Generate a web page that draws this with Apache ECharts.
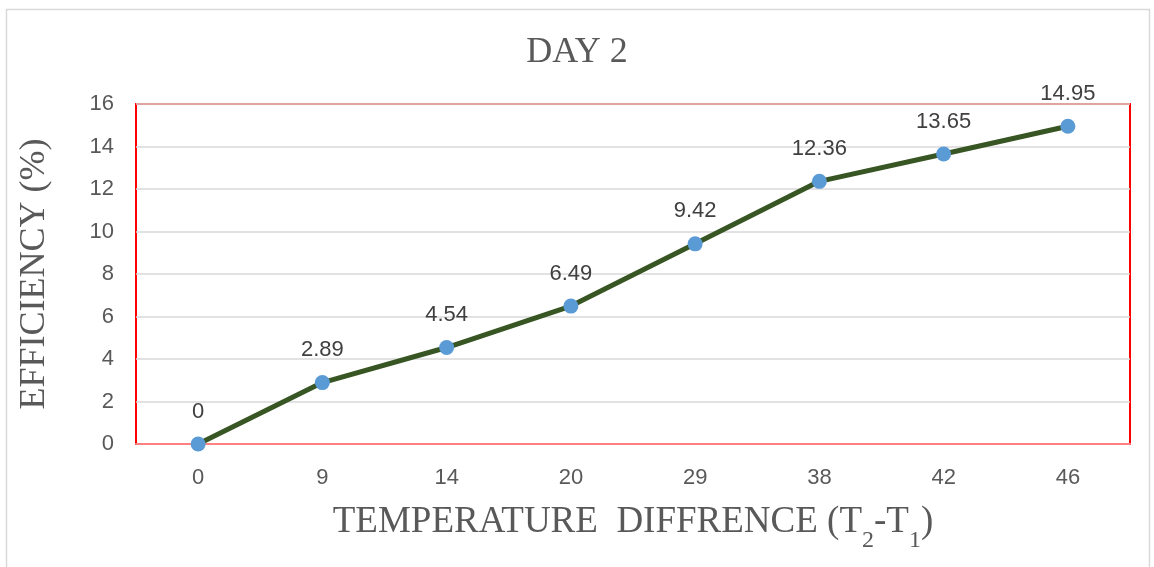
<!DOCTYPE html>
<html><head><meta charset="utf-8">
<script src="https://cdn.jsdelivr.net/npm/echarts@6/dist/echarts.min.js"></script>
<style>html,body{margin:0;padding:0;background:#fff}#c{width:1154px;height:567px}</style>
</head><body><div id="c"></div>
<script>
const categories = ['0','9','14','20','29','38','42','46'];
const efficiency = [0, 2.89, 4.54, 6.49, 9.42, 12.36, 13.65, 14.95];
const sans = '"Liberation Sans Narrow", "Liberation Sans", sans-serif';
const serif = '"Liberation Serif", serif';
const chart = echarts.init(document.getElementById('c'));
chart.setOption({
  animation: false,
  backgroundColor: '#fff',
  graphic: [{type:'rect', shape:{x:6.5,y:9.5,width:1143,height:570}, style:{fill:'none', stroke:'#d9d9d9', lineWidth:1.5}, silent:true, z:-1}],
  title: {text:'DAY 2', left:'center', top:30, textStyle:{fontFamily:serif, fontSize:36, fontWeight:'normal', color:'#595959'}},
  grid: {left:136, right:24, top:104, bottom:123, show:true, borderColor:'#ff0000', borderWidth:2, backgroundColor:'transparent'},
  xAxis: {
    type:'category', data:categories, boundaryGap:true,
    axisLine:{lineStyle:{color:'#ff8080', width:2}}, axisTick:{show:false},
    axisLabel:{fontFamily:sans, fontSize:22, color:'#595959', margin:23},
    name:'{a|TEMPERATURE  DIFFRENCE (T}{s|2}{a|-T}{s|1}{a|)}', nameLocation:'middle', nameGap:55,
    nameTextStyle:{rich:{a:{fontFamily:serif, fontSize:37, color:'#595959', lineHeight:42, verticalAlign:'bottom'}, s:{fontFamily:serif, fontSize:24, color:'#595959', lineHeight:42, verticalAlign:'bottom', padding:[0,0,-12,0]}}}
  },
  yAxis: {
    type:'value', min:0, max:16, interval:2,
    axisLine:{show:false}, axisTick:{show:false},
    splitLine:{lineStyle:{color:'#d9d9d9', width:1.5}},
    axisLabel:{fontFamily:sans, fontSize:22, color:'#595959', margin:22},
    name:'EFFICIENCY (%)', nameLocation:'middle', nameGap:83,
    nameTextStyle:{fontFamily:serif, fontSize:36, color:'#595959'}
  },
  series: [{
    type:'line', data:efficiency,
    lineStyle:{color:'#375623', width:5},
    itemStyle:{color:'#5b9bd5'}, symbol:'circle', symbolSize:15,
    label:{show:true, position:'top', distance:14, fontFamily:sans, fontSize:22, color:'#404040'}
  }]
});
</script></body></html>
